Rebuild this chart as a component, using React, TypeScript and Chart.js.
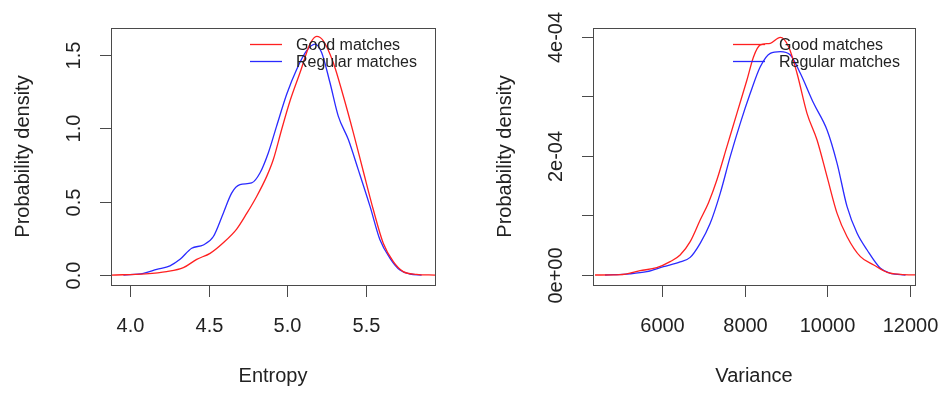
import React, { useEffect, useRef } from "react";
import { Chart, registerables } from "chart.js";
Chart.register(...registerables);

const FONT = '"Liberation Sans", Arial, Helvetica, sans-serif';

// ---------- Entropy panel data ----------
const ENT_GOOD_X = [3.879, 4.1, 4.233, 4.339, 4.424, 4.509, 4.593, 4.678, 4.742, 4.805, 4.869, 4.911, 4.964, 5.017, 5.081, 5.144, 5.187, 5.229, 5.292, 5.356, 5.42, 5.483, 5.547, 5.61, 5.674, 5.737, 5.822, 5.939];
const ENT_GOOD_Y = [0, 0.008, 0.023, 0.05, 0.107, 0.148, 0.22, 0.313, 0.42, 0.536, 0.673, 0.788, 0.993, 1.187, 1.381, 1.575, 1.628, 1.598, 1.45, 1.221, 0.97, 0.708, 0.445, 0.217, 0.091, 0.023, 0.005, 0];
const ENT_REG_X = [3.958, 4.085, 4.17, 4.254, 4.318, 4.392, 4.466, 4.53, 4.593, 4.646, 4.699, 4.773, 4.826, 4.879, 4.932, 4.996, 5.06, 5.123, 5.176, 5.218, 5.271, 5.324, 5.388, 5.451, 5.526, 5.589, 5.653, 5.716, 5.78, 5.854];
const ENT_REG_Y = [0, 0.011, 0.038, 0.063, 0.107, 0.183, 0.205, 0.263, 0.422, 0.559, 0.616, 0.628, 0.696, 0.833, 1.016, 1.233, 1.404, 1.53, 1.575, 1.518, 1.313, 1.084, 0.924, 0.719, 0.468, 0.24, 0.114, 0.034, 0.007, 0];
const ENT_X_TICKS = [4.0, 4.5, 5.0, 5.5];
const ENT_X_LABELS = ["4.0", "4.5", "5.0", "5.5"];
const ENT_Y_TICKS = [0, 0.5, 1.0, 1.5];
const ENT_Y_LABELS = ["0.0", "0.5", "1.0", "1.5"];

// ---------- Variance panel data (densities in units of 1e-4) ----------
const VAR_GOOD_X = [4376, 4982, 5467, 5871, 6194, 6436, 6679, 6921, 7123, 7325, 7568, 7810, 8053, 8214, 8376, 8618, 8861, 9062, 9265, 9507, 9750, 9992, 10235, 10477, 10800, 11123, 11447, 11770, 12205];
const VAR_GOOD_Y = [0, 0.006, 0.073, 0.123, 0.224, 0.336, 0.56, 0.924, 1.216, 1.597, 2.157, 2.717, 3.277, 3.669, 3.866, 3.894, 3.994, 3.837, 3.39, 2.717, 2.269, 1.653, 1.036, 0.644, 0.308, 0.168, 0.045, 0.01, 0];
const VAR_REG_X = [4618, 5224, 5629, 6032, 6436, 6679, 6921, 7164, 7406, 7648, 7891, 8133, 8376, 8618, 8861, 9103, 9345, 9668, 9992, 10235, 10477, 10720, 10962, 11285, 11527, 11891];
const VAR_REG_Y = [0, 0.02, 0.056, 0.14, 0.22, 0.296, 0.532, 0.868, 1.372, 1.989, 2.549, 3.053, 3.5, 3.725, 3.753, 3.697, 3.39, 2.885, 2.437, 1.877, 1.148, 0.7, 0.42, 0.112, 0.028, 0];
const VAR_UNIT = 1e-4;
const VAR_X_TICKS = [6000, 8000, 10000, 12000];
const VAR_X_LABELS = ["6000", "8000", "10000", "12000"];
const VAR_Y_TICKS = [0, 1e-4, 2e-4, 3e-4, 4e-4];
const VAR_Y_LABELS = ["0e+00", "", "2e-04", "", "4e-04"];

const SERIES_NAMES = ["Good matches", "Regular matches"];
const SERIES_COLORS = ["#ff2020", "#2a2aff"];

type Panel = {
  goodX: number[]; goodY: number[]; regX: number[]; regY: number[]; unit: number;
  xMin: number; xMax: number; yMin: number; yMax: number;
  xTicks: number[]; xLabels: string[]; yTicks: number[]; yLabels: string[];
  xTitle: string; yTitle: string;
  padding: { left: number; right: number; top: number; bottom: number };
  legendX: number;
};

function decor(p: Panel) {
  return {
    id: "rdecor",
    afterDraw(chart: any) {
      const { ctx, chartArea: a, scales } = chart;
      const xs = scales.x, ys = scales.y;
      const L = Math.round(a.left), R = Math.round(a.right), T = Math.round(a.top), B = Math.round(a.bottom);
      ctx.save();
      ctx.strokeStyle = "#4a4a4a";
      ctx.lineWidth = 1;
      ctx.strokeRect(L + 0.5, T + 0.5, R - L, B - T);
      // x axis
      const xp = p.xTicks.map((v) => Math.round(xs.getPixelForValue(v)) + 0.5);
      ctx.beginPath();
      ctx.moveTo(xp[0], B + 0.5);
      ctx.lineTo(xp[xp.length - 1], B + 0.5);
      xp.forEach((x) => { ctx.moveTo(x, B + 0.5); ctx.lineTo(x, B + 12); });
      // y axis
      const yp = p.yTicks.map((v) => Math.round(ys.getPixelForValue(v)) + 0.5);
      ctx.moveTo(L + 0.5, yp[0]);
      ctx.lineTo(L + 0.5, yp[yp.length - 1]);
      yp.forEach((y) => { ctx.moveTo(L + 0.5, y); ctx.lineTo(L - 11, y); });
      ctx.stroke();

      ctx.fillStyle = "#222";
      ctx.font = `20px ${FONT}`;
      ctx.textAlign = "center";
      ctx.textBaseline = "alphabetic";
      xp.forEach((x, i) => ctx.fillText(p.xLabels[i], x, B + 47));
      yp.forEach((y, i) => {
        if (!p.yLabels[i]) return;
        ctx.save();
        ctx.translate(L - 31, y);
        ctx.rotate(-Math.PI / 2);
        ctx.fillText(p.yLabels[i], 0, 0);
        ctx.restore();
      });
      ctx.font = `20px ${FONT}`;
      ctx.fillText(p.xTitle, (L + R) / 2, B + 97);
      ctx.save();
      ctx.translate(L - 82, (T + B) / 2);
      ctx.rotate(-Math.PI / 2);
      ctx.fillText(p.yTitle, 0, 0);
      ctx.restore();

      // legend (no box)
      ctx.font = `16px ${FONT}`;
      ctx.textAlign = "left";
      ctx.textBaseline = "middle";
      SERIES_NAMES.forEach((name, i) => {
        const y = 44.5 + i * 17;
        ctx.strokeStyle = SERIES_COLORS[i];
        ctx.lineWidth = 1.3;
        ctx.beginPath();
        ctx.moveTo(p.legendX, y);
        ctx.lineTo(p.legendX + 32, y);
        ctx.stroke();
        ctx.fillStyle = "#222";
        ctx.fillText(name, p.legendX + 46, y + 1);
      });
      ctx.restore();
    },
  };
}

function PanelChart({ p }: { p: Panel }) {
  const ref = useRef<HTMLCanvasElement>(null);
  useEffect(() => {
    if (!ref.current) return;
    const mk = (xs: number[], ys: number[]) => xs.map((x, i) => ({ x, y: ys[i] * p.unit }));
    const chart = new Chart(ref.current, {
      type: "line",
      data: {
        datasets: [
          { label: SERIES_NAMES[0], data: mk(p.goodX, p.goodY), borderColor: SERIES_COLORS[0], borderWidth: 1.3, pointRadius: 0, cubicInterpolationMode: "monotone", fill: false },
          { label: SERIES_NAMES[1], data: mk(p.regX, p.regY), borderColor: SERIES_COLORS[1], borderWidth: 1.3, pointRadius: 0, cubicInterpolationMode: "monotone", fill: false },
        ],
      },
      options: {
        animation: false,
        responsive: false,
        devicePixelRatio: 1,
        layout: { padding: p.padding },
        plugins: { legend: { display: false }, tooltip: { enabled: false } },
        scales: {
          x: { type: "linear", display: false, min: p.xMin, max: p.xMax },
          y: { type: "linear", display: false, min: p.yMin, max: p.yMax },
        },
      },
      plugins: [decor(p)],
    } as any);
    return () => chart.destroy();
  }, [p]);
  return <canvas ref={ref} width={473} height={394} style={{ display: "block", width: 473, height: 394 }} />;
}

const LEFT: Panel = {
  goodX: ENT_GOOD_X, goodY: ENT_GOOD_Y, regX: ENT_REG_X, regY: ENT_REG_Y, unit: 1,
  xMin: 3.879, xMax: 5.939, yMin: -0.068, yMax: 1.685,
  xTicks: ENT_X_TICKS, xLabels: ENT_X_LABELS, yTicks: ENT_Y_TICKS, yLabels: ENT_Y_LABELS,
  xTitle: "Entropy", yTitle: "Probability density",
  padding: { left: 111, right: 38, top: 28, bottom: 109 },
  legendX: 250,
};

const RIGHT: Panel = {
  goodX: VAR_GOOD_X, goodY: VAR_GOOD_Y, regX: VAR_REG_X, regY: VAR_REG_Y, unit: VAR_UNIT,
  xMin: 4327, xMax: 12121, yMin: -1.68e-5, yMax: 4.151e-4,
  xTicks: VAR_X_TICKS, xLabels: VAR_X_LABELS, yTicks: VAR_Y_TICKS, yLabels: VAR_Y_LABELS,
  xTitle: "Variance", yTitle: "Probability density",
  padding: { left: 120, right: 31, top: 28, bottom: 109 },
  legendX: 260,
};

export default function App() {
  return (
    <div style={{ position: "fixed", left: 0, top: 0, width: 946, height: 394, background: "#fff", display: "flex" }}>
      <PanelChart p={LEFT} />
      <PanelChart p={RIGHT} />
    </div>
  );
}
